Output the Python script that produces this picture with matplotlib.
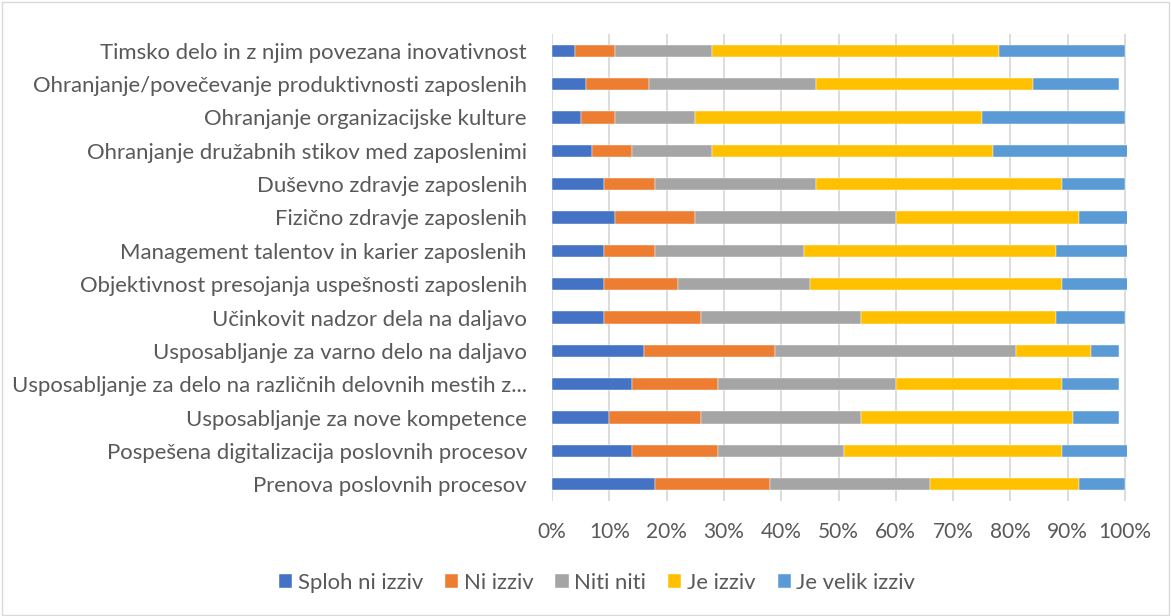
import matplotlib
matplotlib.use("Agg")
import matplotlib.pyplot as plt
from matplotlib.patches import Rectangle
import numpy as np

categories = [
    "Timsko delo in z njim povezana inovativnost",
    "Ohranjanje/povečevanje produktivnosti zaposlenih",
    "Ohranjanje organizacijske kulture",
    "Ohranjanje družabnih stikov med zaposlenimi",
    "Duševno zdravje zaposlenih",
    "Fizično zdravje zaposlenih",
    "Management talentov in karier zaposlenih",
    "Objektivnost presojanja uspešnosti zaposlenih",
    "Učinkovit nadzor dela na daljavo",
    "Usposabljanje za varno delo na daljavo",
    "Usposabljanje za delo na različnih delovnih mestih z...",
    "Usposabljanje za nove kompetence",
    "Pospešena digitalizacija poslovnih procesov",
    "Prenova poslovnih procesov",
]
series_names = ["Sploh ni izziv", "Ni izziv", "Niti niti", "Je izziv", "Je velik izziv"]
sploh_ni = [4, 6, 5, 7, 9, 11, 9, 9, 9, 16, 14, 10, 14, 18]
ni_izziv = [7, 11, 6, 7, 9, 14, 9, 13, 17, 23, 15, 16, 15, 20]
niti_niti = [17, 29, 14, 14, 28, 35, 26, 23, 28, 42, 31, 28, 22, 28]
je_izziv = [50, 38, 50, 49, 43, 32, 44, 44, 34, 13, 29, 37, 38, 26]
je_velik = [22, 15, 25, 24, 11, 9, 13, 12, 12, 5, 10, 8, 12, 8]
xticks = [0, 10, 20, 30, 40, 50, 60, 70, 80, 90, 100]
xtick_labels = [f"{t}%" for t in xticks]

colors = ["#4472C4", "#ED7D31", "#A5A5A5", "#FFC000", "#5B9BD5"]
text_color = "#595959"

plt.rcParams['font.family'] = ['Lato', 'DejaVu Sans']

fig = plt.figure(figsize=(11.71, 6.16), dpi=100)
ax = fig.add_axes([552/1171, 1-501/616, 575.3/1171, 467/616])

y = np.arange(len(categories))
left = np.zeros(len(categories))
data = [sploh_ni, ni_izziv, niti_niti, je_izziv, je_velik]
for vals, c, name in zip(data, colors, series_names):
    vals = np.array(vals, dtype=float)
    ax.barh(y, vals, left=left, height=0.37, color=c, label=name, zorder=3,
            edgecolor='white', linewidth=0.3)
    left += vals

ax.set_xlim(0, 100.4)
ax.set_ylim(len(categories) - 0.5, -0.5)
ax.set_yticks(y)
ax.set_yticklabels(categories, fontsize=15.9, color=text_color)
ax.set_xticks(xticks)
ax.set_xticklabels(xtick_labels, fontsize=15, color=text_color)
ax.tick_params(axis='both', length=0)
ax.tick_params(axis='y', pad=18)
ax.tick_params(axis='x', pad=15)
ax.grid(axis='x', color='#D9D9D9', linewidth=1.3, zorder=0)
for s in ax.spines.values():
    s.set_visible(False)

handles, labels = ax.get_legend_handles_labels()
leg = fig.legend(handles, labels, loc='center', bbox_to_anchor=(597/1171, 1-583/616),
                 ncol=5, frameon=False, fontsize=15.9, handlelength=0.6, handleheight=0.6,
                 handletextpad=0.25, columnspacing=1.0)
for t in leg.get_texts():
    t.set_color(text_color)

fig.patches.append(Rectangle((0.002, 0.002), 0.996, 0.994, transform=fig.transFigure,
                             fill=False, edgecolor='#D9D9D9', linewidth=1))

fig.savefig("out.png", dpi=100)
